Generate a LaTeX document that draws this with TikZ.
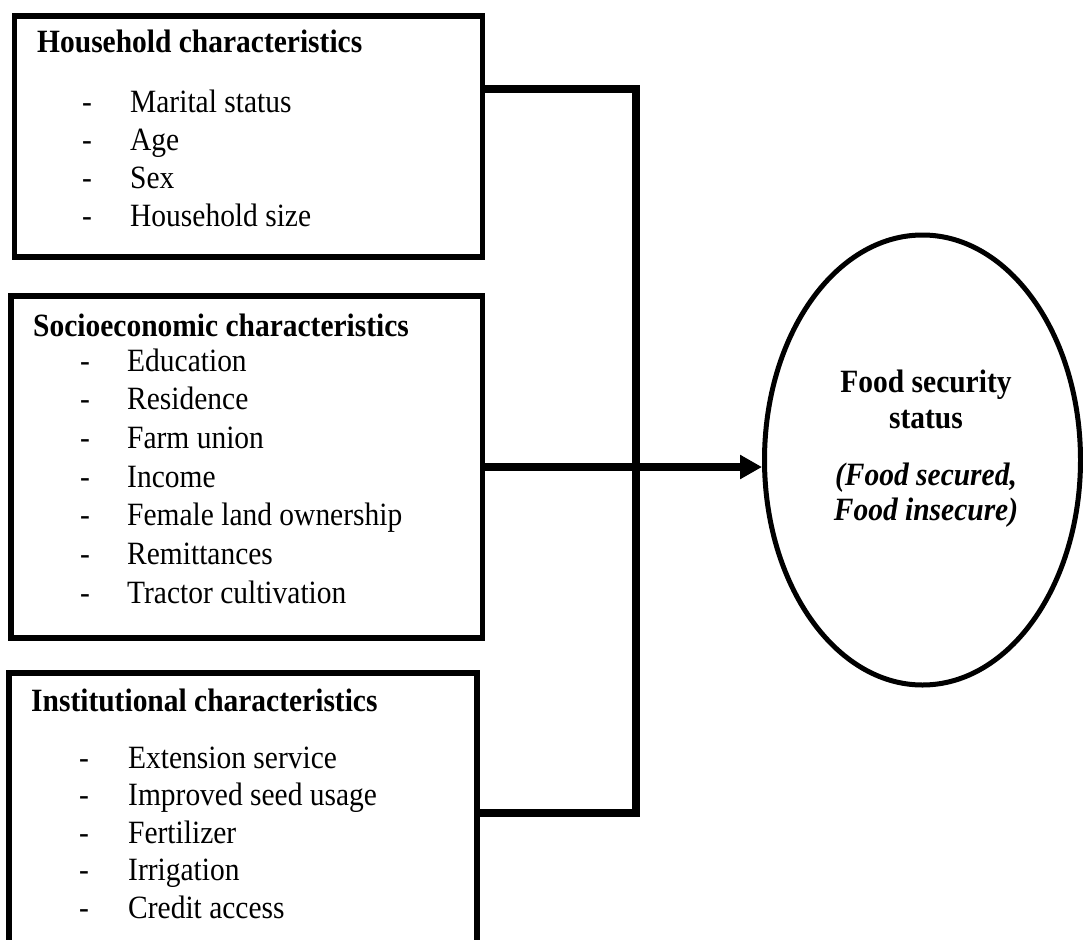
\documentclass[tikz,border=0pt]{standalone}
\usepackage{fontspec}
\setmainfont{Liberation Serif}[FakeStretch=0.907]
\usetikzlibrary{arrows.meta,shapes.geometric}
\begin{document}
\begin{tikzpicture}[x=1pt,y=-1pt,
  box/.style={draw, line width=5.5pt, rectangle, inner sep=0pt, outer sep=0pt},
  conn/.style={line width=7.5pt},
  arrowline/.style={conn, -{Triangle[length=22pt,width=23pt]}, shorten >=2.5pt},
  txt/.style={anchor=base west, inner sep=0pt, font=\fontsize{32.5}{38}\selectfont},
  ttl/.style={txt, font=\fontsize{32.5}{38}\selectfont\bfseries},
  ctr/.style={anchor=base, inner sep=0pt, font=\fontsize{32.5}{38}\selectfont\bfseries},
  ctri/.style={anchor=base, inner sep=0pt, font=\fontsize{32.5}{38}\selectfont\bfseries\itshape},
  oval/.style={draw, ellipse, line width=5pt, inner sep=0pt, outer sep=0pt}
]
\useasboundingbox (0,0) rectangle (1083,939);
\clip (0,0) rectangle (1083,939);

% boxes
\node[box, minimum width=468pt, minimum height=241pt] (b1) at (248.5,136.5) {};
\node[box, minimum width=471.5pt, minimum height=342pt] (b2) at (246.75,467) {};
\node[box, minimum width=468pt, minimum height=287pt] (b3) at (243,816.5) {};

% ellipse
\node[oval, minimum width=316pt, minimum height=450pt] (ell) at (922.5,460) {};

% box 1 text
\node[ttl] (t1) at (37,53) {Household characteristics};
\foreach \t [count=\i] in {Marital status, Age, Sex, Household size}{
  \node[txt] (b1d\i) at (82,{113+37.7*(\i-1)}) {-};
  \node[txt] (b1i\i) at (130,{113+37.7*(\i-1)}) {\t};
}

% box 2 text
\node[ttl] (t2) at (33,336) {Socioeconomic characteristics};
\foreach \t [count=\i] in {Education, Residence, Farm union, Income, Female land ownership, Remittances, Tractor cultivation}{
  \node[txt] (b2d\i) at (80,{371+38.67*(\i-1)}) {-};
  \node[txt] (b2i\i) at (127,{371+38.67*(\i-1)}) {\t};
}

% box 3 text
\node[ttl] (t3) at (31,711) {Institutional characteristics};
\foreach \t [count=\i] in {Extension service, Improved seed usage, Fertilizer, Irrigation, Credit access}{
  \node[txt] (b3d\i) at (79,{768+37.5*(\i-1)}) {-};
  \node[txt] (b3i\i) at (128,{768+37.5*(\i-1)}) {\t};
}

% ellipse text
\node[ctr] (e1) at (926,392) {Food security};
\node[ctr] (e2) at (926,428) {status};
\node[ctri] (e3) at (926,485) {(Food secured,};
\node[ctri] (e4) at (926,520) {Food insecure)};

% connectors
\coordinate (j1) at (636,89);
\coordinate (j3) at (636,813);
\draw[conn] (b1.east |- j1) -- (j1) -- (j3) -- (b3.east |- j3);
\draw[arrowline] (b2.east) -- (b2.east -| ell.west);
\end{tikzpicture}
\end{document}
